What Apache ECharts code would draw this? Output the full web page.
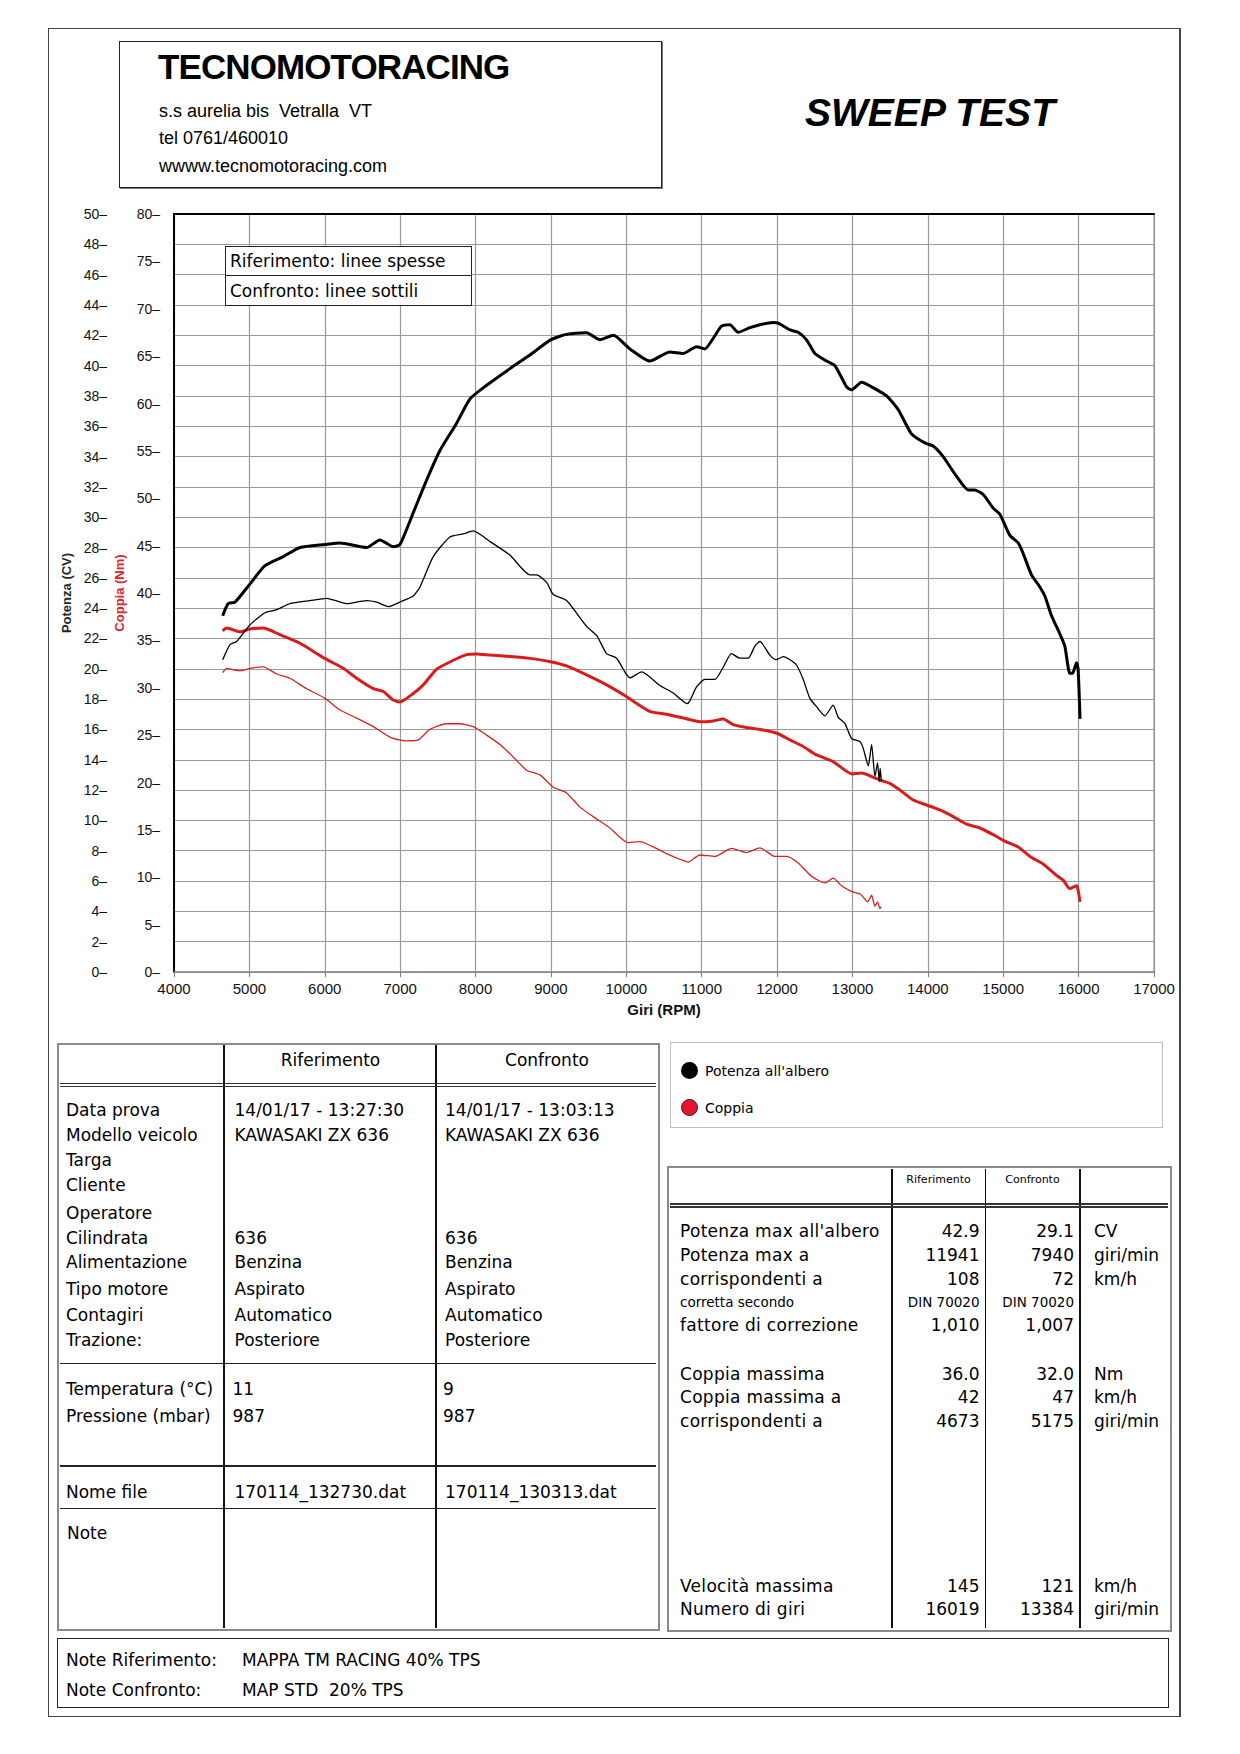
<!DOCTYPE html>
<html>
<head>
<meta charset="utf-8">
<script src="https://cdn.jsdelivr.net/npm/echarts@6/dist/echarts.min.js"></script>
<style>
  html, body { margin:0; padding:0; background:#fff; }
  #page { position:relative; width:1240px; height:1754px; overflow:hidden; background:#fff; }
  #chart { position:absolute; left:0; top:0; width:1240px; height:1754px; }
  .t { position:absolute; white-space:pre; color:#000; z-index:3; }
  .box { position:absolute; box-sizing:border-box; }
</style>
</head>
<body>
<div id="page">
  <div id="chart"></div>
  <div id="overlay"></div>
</div>
<script>
// ---------------- chart data ----------------
const rpmTicks = [4000,5000,6000,7000,8000,9000,10000,11000,12000,13000,14000,15000,16000,17000];
const cvTicks = [0,50,2];      // min, max, step
const nmTicks = [0,80,5];      // min, max, step

// Riferimento (thick) - Potenza all'albero (CV)
const refPowerRpm = [4646,4720,4809,5008,5207,5450,5671,6000,6202,6555,6732,6909,6997,7174,7351,7528,7749,7926,8147,8456,8721,8996,9208,9473,9650,9827,10048,10313,10578,10755,10932,11042,11153,11263,11374,11484,11639,11772,11948,12015,12170,12280,12391,12502,12657,12767,12922,12988,13121,13254,13453,13607,13783,13960,14070,14203,14380,14535,14623,14734,14867,14955,15088,15199,15265,15375,15486,15552,15641,15751,15817,15883,15919,15972,15993,16019];
const refPowerCv  = [23.5,24.3,24.4,25.6,26.8,27.4,28.0,28.2,28.3,28.0,28.5,28.05,28.2,30.3,32.45,34.4,36.2,37.8,38.7,39.8,40.7,41.7,42.06,42.17,41.7,42.0,41.1,40.3,40.9,40.8,41.25,41.1,41.8,42.6,42.7,42.2,42.5,42.7,42.85,42.8,42.35,42.2,41.7,40.8,40.3,40.0,38.6,38.4,38.9,38.6,38.0,37.1,35.5,34.9,34.7,34.0,32.7,31.8,31.8,31.5,30.6,30.2,28.8,28.3,27.6,26.2,25.4,24.8,23.5,22.3,21.5,19.7,19.7,20.4,20.0,16.7];

// Confronto (thin) - Potenza all'albero (CV)
const cmpPowerRpm = [4646,4743,4831,5008,5207,5362,5538,5804,6025,6290,6555,6688,6842,6997,7174,7263,7439,7660,7837,7969,8191,8456,8721,8810,8943,9031,9208,9473,9606,9739,9871,10048,10203,10446,10623,10808,10844,10932,11042,11175,11285,11395,11506,11617,11706,11772,11905,11984,12081,12170,12258,12347,12435,12524,12634,12744,12811,12899,12988,13098,13143,13210,13254,13298,13333,13355,13368,13384];
const cmpPowerCv  = [20.6,21.6,21.8,22.9,23.7,23.9,24.3,24.5,24.65,24.3,24.5,24.4,24.1,24.4,24.8,25.4,27.4,28.7,28.9,29.1,28.4,27.5,26.2,26.2,25.7,24.9,24.5,22.8,22.2,21.0,20.7,19.4,19.8,18.9,18.4,17.7,17.9,18.8,19.3,19.3,20.1,21.0,20.7,20.7,21.5,21.8,20.9,20.6,20.8,20.6,20.25,19.3,18.05,17.5,16.9,17.6,16.8,16.4,15.4,15.2,14.75,13.6,15.0,12.9,13.8,12.55,13.45,12.55];

// Riferimento (thick) - Coppia (Nm)
const refTorqueRpm = [4646,4699,4875,5008,5184,5406,5671,6000,6246,6423,6644,6777,6909,6997,7174,7307,7484,7705,7882,8015,8191,8456,8721,8996,9208,9473,9739,9995,10313,10534,10755,11003,11153,11285,11418,11595,11772,11997,12170,12347,12502,12744,12996,13121,13320,13496,13629,13806,13992,14159,14336,14513,14690,14867,14999,15199,15354,15529,15707,15795,15883,15972,15993,16019];
const refTorqueNm  = [36.0,36.3,35.9,36.2,36.3,35.6,34.7,33.1,32.05,31.0,29.9,29.6,28.7,28.5,29.4,30.3,31.95,32.9,33.5,33.56,33.45,33.3,33.1,32.75,32.3,31.35,30.3,29.1,27.5,27.2,26.8,26.4,26.5,26.7,26.1,25.8,25.6,25.2,24.5,23.8,23.0,22.2,20.9,21.0,20.4,19.9,19.2,18.15,17.6,17.1,16.4,15.6,15.2,14.5,13.9,13.2,12.2,11.4,10.2,9.7,8.8,9.1,8.65,7.4];

// Confronto (thin) - Coppia (Nm)
const cmpTorqueRpm = [4646,4699,4787,4898,5008,5184,5362,5538,5760,6000,6202,6423,6644,6887,7086,7240,7395,7617,7793,7969,8147,8324,8500,8677,8854,9031,9208,9385,9561,9782,10025,10180,10356,10534,10711,10821,10976,11175,11395,11595,11772,11971,12126,12280,12457,12634,12744,12855,12988,13108,13200,13254,13298,13333,13363,13384];
const cmpTorqueNm  = [31.6,32.05,31.9,31.8,32.05,32.2,31.45,31.0,29.9,28.9,27.65,26.8,25.9,24.7,24.4,24.5,25.6,26.2,26.2,25.9,25.0,24.0,22.7,21.3,20.8,19.5,18.9,17.4,16.4,15.2,13.65,13.75,13.2,12.5,11.9,11.6,12.35,12.2,13.05,12.6,13.1,12.2,12.2,11.5,10.1,9.4,9.9,9.1,8.5,8.2,7.4,8.1,6.95,7.4,6.7,6.9];

// ---------------- page texts ----------------
const leftLabels = ['Data prova','Modello veicolo','Targa','Cliente','Operatore','Cilindrata','Alimentazione','Tipo motore','Contagiri','Trazione:'];
const leftRowY   = [1110,1135,1160,1185,1213,1238,1262,1289,1314.5,1340];
const refInfo    = ['14/01/17 - 13:27:30','KAWASAKI ZX 636','','','','636','Benzina','Aspirato','Automatico','Posteriore'];
const cmpInfo    = ['14/01/17 - 13:03:13','KAWASAKI ZX 636','','','','636','Benzina','Aspirato','Automatico','Posteriore'];

const resLabels = ["Potenza max all'albero",'Potenza max a','corrispondenti a','corretta secondo','fattore di correzione','Coppia massima','Coppia massima a','corrispondenti a','Velocità massima','Numero di giri'];
const resRowY   = [1231,1255,1279,1302,1325,1374,1397,1421,1585.5,1608.5];
const resRef    = ['42.9','11941','108','DIN 70020','1,010','36.0','42','4673','145','16019'];
const resCmp    = ['29.1','7940','72','DIN 70020','1,007','32.0','47','5175','121','13384'];
const resUnit   = ['CV','giri/min','km/h','','','Nm','km/h','giri/min','km/h','giri/min'];
const resSmall  = [false,false,false,true,false,false,false,false,false,false];

// ---------------- overlay helpers ----------------
const ov = document.getElementById('overlay');
const VER = "'DejaVu Sans', Verdana, sans-serif";
const ARI = "'Liberation Sans', Arial, sans-serif";
function txt(x, y, s, o) {
  o = o || {};
  const size = o.size || 17;
  const lh = Math.round(size * 1.3);
  const d = document.createElement('div');
  d.className = 't';
  d.textContent = s;
  d.style.fontFamily = o.font || VER;
  d.style.fontSize = size + 'px';
  d.style.lineHeight = lh + 'px';
  d.style.top = (y - lh / 2) + 'px';
  if (o.weight) d.style.fontWeight = o.weight;
  if (o.style) d.style.fontStyle = o.style;
  if (o.color) d.style.color = o.color;
  if (o.ls) d.style.letterSpacing = o.ls;
  if (o.align === 'right') { d.style.right = (1240 - x) + 'px'; }
  else if (o.align === 'center') { d.style.left = x + 'px'; d.style.transform = 'translateX(-50%)'; }
  else { d.style.left = x + 'px'; }
  ov.appendChild(d);
  return d;
}
function box(x1, y1, x2, y2, css) {
  const d = document.createElement('div');
  d.className = 'box';
  d.style.left = x1 + 'px'; d.style.top = y1 + 'px';
  d.style.width = (x2 - x1) + 'px'; d.style.height = (y2 - y1) + 'px';
  Object.assign(d.style, css || {});
  ov.appendChild(d);
  return d;
}
function hline(x1, x2, y, w, c) { box(x1, y - w / 2, x2, y + w / 2, { background: c }); }
function vline(x, y1, y2, w, c) { box(x - w / 2, y1, x + w / 2, y2, { background: c }); }

// page frame
box(48, 28, 1181, 1717, { border: '1.5px solid #444', borderRightWidth: '2.5px' });

// header box
box(119, 41, 662, 188, { border: '1.5px solid #222', boxShadow: '1px 1px 0 #777' });
txt(158, 67, 'TECNOMOTORACING', { font: ARI, size: 35, weight: 'bold', ls: '-0.9px' });
txt(159, 111, 's.s aurelia bis  Vetralla  VT', { font: ARI, size: 18 });
txt(159, 138.5, 'tel 0761/460010', { font: ARI, size: 18 });
txt(159, 166.5, 'wwww.tecnomotoracing.com', { font: ARI, size: 18 });
txt(930, 112, 'SWEEP TEST', { font: ARI, size: 39, weight: 'bold', style: 'italic', align: 'center' });

// in-chart legend box
box(225, 246, 472, 306, { border: '1.5px solid #222', background: '#fff' });
hline(225, 472, 275.5, 1.2, '#222');
txt(230, 261, 'Riferimento: linee spesse', { size: 17 });
txt(230, 291, 'Confronto: linee sottili', { size: 17 });

// left table
box(57, 1043, 660, 1631, { border: '2px solid #8a8a8a' });
vline(224, 1045, 1628, 1.6, '#111');
vline(436, 1045, 1628, 1.6, '#111');
hline(60, 656, 1083.7, 1.2, '#333');
hline(60, 656, 1086.8, 1.2, '#333');
hline(60, 656, 1363.7, 1.6, '#222');
hline(60, 656, 1466, 1.6, '#222');
hline(60, 656, 1508.7, 1.6, '#222');
txt(330.5, 1060, 'Riferimento', { align: 'center' });
txt(547, 1060, 'Confronto', { align: 'center' });
leftLabels.forEach((s, i) => {
  txt(66, leftRowY[i], s);
  if (refInfo[i]) txt(234.5, leftRowY[i], refInfo[i]);
  if (cmpInfo[i]) txt(445, leftRowY[i], cmpInfo[i]);
});
txt(66, 1388.5, 'Temperatura (°C)'); txt(232.5, 1388.5, '11'); txt(443, 1388.5, '9');
txt(66, 1415.5, 'Pressione (mbar)'); txt(232.5, 1415.5, '987'); txt(443, 1415.5, '987');
txt(66, 1492, 'Nome file'); txt(234.5, 1492, '170114_132730.dat'); txt(445, 1492, '170114_130313.dat');
txt(67, 1532.5, 'Note');

// notes box
box(57, 1638, 1169, 1708, { border: '1.5px solid #222' });
txt(66, 1660, 'Note Riferimento:'); txt(242, 1660, 'MAPPA TM RACING 40% TPS');
txt(66, 1689.5, 'Note Confronto:');  txt(242, 1689.5, 'MAP STD  20% TPS');

// legend box (right)
box(670, 1042, 1163, 1128, { border: '1.5px solid #bdbdbd' });
box(681, 1062, 698, 1079, { borderRadius: '50%', background: '#000' });
box(681, 1099, 698, 1116, { borderRadius: '50%', background: '#e8132d', border: '1px solid #222' });
txt(705, 1070.5, "Potenza all'albero", { size: 14 });
txt(705, 1107.5, 'Coppia', { size: 14 });

// results table (right)
box(667, 1166, 1172, 1632, { border: '2px solid #8a8a8a' });
vline(892, 1169, 1628, 1.6, '#111');
vline(985.5, 1169, 1628, 1.6, '#111');
vline(1080, 1169, 1628, 1.6, '#111');
hline(670, 1168, 1204, 1.2, '#333');
hline(670, 1168, 1207, 1.2, '#333');
txt(938.5, 1180, 'Riferimento', { size: 11, align: 'center' });
txt(1032.5, 1180, 'Confronto', { size: 11, align: 'center' });
resLabels.forEach((s, i) => {
  const sz = resSmall[i] ? 13.5 : 17;
  txt(680, resRowY[i], s, { size: sz, ls: resSmall[i] ? '0' : '0.3px' });
  txt(979.5, resRowY[i], resRef[i], { size: sz, align: 'right' });
  txt(1074, resRowY[i], resCmp[i], { size: sz, align: 'right' });
  if (resUnit[i]) txt(1094, resRowY[i], resUnit[i], { size: 17 });
});

// ---------------- chart ----------------
const zip = (xs, ys) => xs.map((x, i) => [x, ys[i]]);
const AXF = "'Liberation Sans Narrow', 'Arial Narrow', 'Liberation Sans', sans-serif";
const chart = echarts.init(document.getElementById('chart'), null, { renderer: 'svg', width: 1240, height: 1754 });
const lineCommon = { type: 'line', showSymbol: false, smooth: 0.2 };
const option = {
  animation: false,
  backgroundColor: 'transparent',
  grid: { left: 174, top: 214, width: 980, height: 758, show: true, borderColor: '#999', borderWidth: 1.2, backgroundColor: 'transparent' },
  xAxis: [
    { type: 'value', min: rpmTicks[0], max: rpmTicks[rpmTicks.length - 1], interval: rpmTicks[1] - rpmTicks[0], position: 'bottom',
      axisLine: { show: true, onZero: false, lineStyle: { color: '#888', width: 1.5 } },
      axisTick: { show: true, length: 5, lineStyle: { color: '#777', width: 1 } },
      axisLabel: { fontFamily: AXF, fontSize: 15, color: '#111', margin: 9, formatter: v => String(v) },
      splitLine: { show: true, lineStyle: { color: '#9a9a9a', width: 1.2 } },
      name: 'Giri (RPM)', nameLocation: 'middle', nameGap: 30,
      nameTextStyle: { fontFamily: AXF, fontSize: 15, fontWeight: 'bold', color: '#111' } },
    { type: 'value', min: rpmTicks[0], max: rpmTicks[rpmTicks.length - 1], position: 'top',
      axisLine: { show: true, onZero: false, lineStyle: { color: '#000', width: 2 } },
      axisTick: { show: false }, axisLabel: { show: false }, splitLine: { show: false } }
  ],
  yAxis: [
    { type: 'value', min: cvTicks[0], max: cvTicks[1], interval: cvTicks[2], position: 'left', offset: 60,
      axisLine: { show: false }, axisTick: { show: false },
      axisLabel: { formatter: v => v + '–', margin: 7, fontFamily: AXF, fontSize: 14, color: '#111' },
      splitLine: { show: true, lineStyle: { color: '#9a9a9a', width: 1.2 } },
      name: 'Potenza (CV)', nameLocation: 'middle', nameRotate: 90, nameGap: 40,
      nameTextStyle: { fontFamily: ARI, fontSize: 13, fontWeight: 'bold', color: '#1f2a22' } },
    { type: 'value', min: nmTicks[0], max: nmTicks[1], interval: nmTicks[2], position: 'left', offset: 0,
      axisLine: { show: true, onZero: false, lineStyle: { color: '#000', width: 2 } }, axisTick: { show: false },
      axisLabel: { formatter: v => v + '–', margin: 14, fontFamily: AXF, fontSize: 14, color: '#111' },
      splitLine: { show: false },
      name: 'Coppia (Nm)', nameLocation: 'middle', nameRotate: 90, nameGap: 44,
      nameTextStyle: { fontFamily: ARI, fontSize: 13, fontWeight: 'bold', color: '#e0202a' } }
  ],
  series: [
    Object.assign({ name: 'Coppia rif', xAxisIndex: 0, yAxisIndex: 1, data: zip(refTorqueRpm, refTorqueNm), lineStyle: { color: '#d81c1c', width: 3 }, z: 2 }, lineCommon),
    Object.assign({ name: 'Coppia conf', xAxisIndex: 0, yAxisIndex: 1, data: zip(cmpTorqueRpm, cmpTorqueNm), lineStyle: { color: '#d82020', width: 1.3 }, z: 2 }, lineCommon),
    Object.assign({ name: 'Potenza rif', xAxisIndex: 0, yAxisIndex: 0, data: zip(refPowerRpm, refPowerCv), lineStyle: { color: '#000', width: 3 }, z: 3 }, lineCommon),
    Object.assign({ name: 'Potenza conf', xAxisIndex: 0, yAxisIndex: 0, data: zip(cmpPowerRpm, cmpPowerCv), lineStyle: { color: '#000', width: 1.3 }, z: 3 }, lineCommon)
  ]
};
chart.setOption(option);
</script>
</body>
</html>
